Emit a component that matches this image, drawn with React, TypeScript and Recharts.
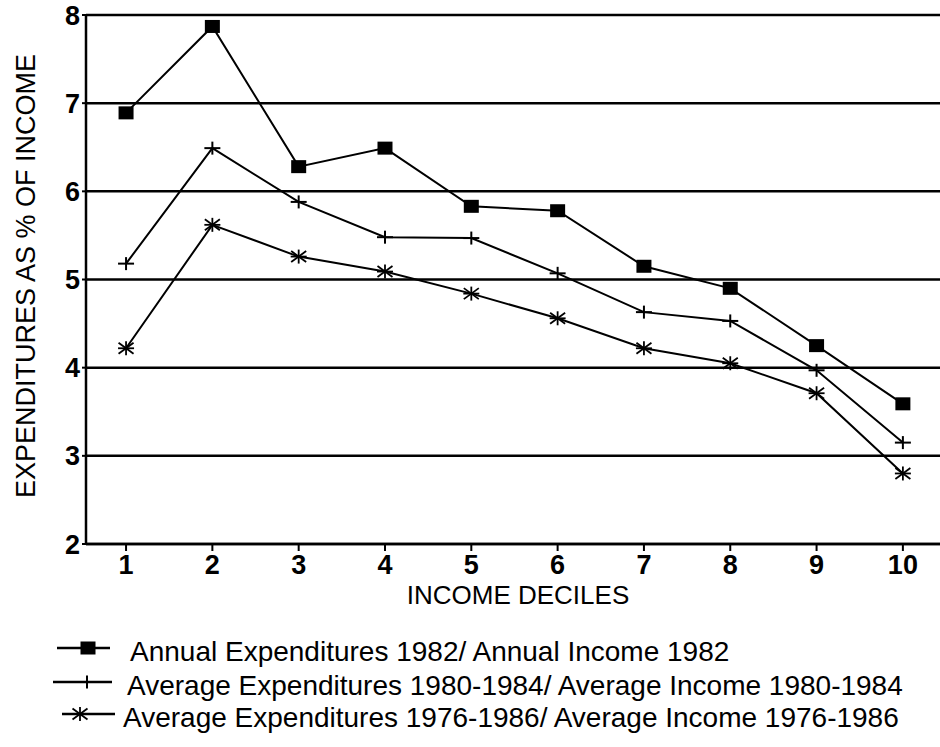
import React from 'react';
import { LineChart, Line, XAxis, YAxis, CartesianGrid, Legend } from 'recharts';

const deciles = [1, 2, 3, 4, 5, 6, 7, 8, 9, 10];
const annual1982 = [6.89, 7.87, 6.28, 6.49, 5.83, 5.78, 5.15, 4.9, 4.25, 3.59];
const avg1980to1984 = [5.18, 6.49, 5.88, 5.48, 5.47, 5.07, 4.63, 4.53, 3.97, 3.15];
const avg1976to1986 = [4.22, 5.62, 5.26, 5.09, 4.84, 4.56, 4.22, 4.05, 3.71, 2.8];
const yTicks = [2, 3, 4, 5, 6, 7, 8];
const seriesNames = [
  'Annual Expenditures 1982/ Annual Income 1982',
  'Average Expenditures 1980-1984/ Average Income 1980-1984',
  'Average Expenditures 1976-1986/ Average Income 1976-1986',
];
const xTitle = 'INCOME DECILES';
const yTitle = 'EXPENDITURES AS % OF INCOME';

const data = deciles.map((d, i) => ({
  decile: d,
  a: annual1982[i],
  b: avg1980to1984[i],
  c: avg1976to1986[i],
}));

const FONT = '"Liberation Sans", Arial, Helvetica, sans-serif';

const SquareMark = ({ cx, cy }: { cx: number; cy: number }) => (
  <rect x={cx - 7.5} y={cy - 6.5} width={15} height={13} fill="#000" />
);
const PlusMark = ({ cx, cy }: { cx: number; cy: number }) => (
  <g stroke="#000" strokeWidth={2}>
    <line x1={cx - 8} y1={cy} x2={cx + 8} y2={cy} />
    <line x1={cx} y1={cy - 6.5} x2={cx} y2={cy + 6.5} />
  </g>
);
const StarMark = ({ cx, cy }: { cx: number; cy: number }) => (
  <g stroke="#000" strokeWidth={1.8}>
    <line x1={cx} y1={cy - 7} x2={cx} y2={cy + 7} />
    <line x1={cx - 7.5} y1={cy - 5.5} x2={cx + 7.5} y2={cy + 5.5} />
    <line x1={cx - 7.5} y1={cy + 5.5} x2={cx + 7.5} y2={cy - 5.5} />
    <line x1={cx - 8} y1={cy} x2={cx + 8} y2={cy} />
  </g>
);

const renderDot = (Mark: any) => (props: any) => {
  const { cx, cy, index } = props;
  return <Mark key={`m-${index}`} cx={cx} cy={cy} />;
};

const LegendContent = () => {
  const rows = [
    { base: 661, textX: 130, lx1: 57, lx2: 110, mx: 88, Mark: SquareMark },
    { base: 695, textX: 127, lx1: 53, lx2: 112, mx: 87, Mark: PlusMark },
    { base: 727, textX: 123, lx1: 62, lx2: 115, mx: 80, Mark: StarMark },
  ];
  const top = 625;
  return (
    <svg width={940} height={122} style={{ display: 'block' }}>
      {rows.map((r, i) => (
        <g key={i}>
          <line x1={r.lx1} y1={r.base - top - 13} x2={r.lx2} y2={r.base - top - 13} stroke="#000" strokeWidth={2.5} />
          <r.Mark cx={r.mx} cy={r.base - top - 13} />
          <text x={r.textX} y={r.base - top} fontSize={28} fill="#000" fontFamily={FONT}>
            {seriesNames[i]}
          </text>
        </g>
      ))}
    </svg>
  );
};

export default function App() {
  return (
    <div style={{ position: 'absolute', left: 0, top: 0, width: 940, height: 747, background: '#fff', fontFamily: FONT }}>
      <LineChart
        width={940}
        height={747}
        data={data}
        margin={{ top: 15, right: 0, bottom: 143, left: 0 }}
      >
        <CartesianGrid horizontal={true} vertical={false} stroke="#000" strokeWidth={2.5} strokeOpacity={1} />
        <XAxis
          dataKey="decile"
          type="number"
          domain={[0.536, 10.43]}
          ticks={deciles}
          allowDataOverflow
          height={60}
          axisLine={{ stroke: '#000', strokeWidth: 2.5 }}
          tickLine={{ stroke: '#000', strokeWidth: 2 }}
          tickSize={7}
          tickMargin={4}
          tick={{ fill: '#000', fontSize: 27, fontWeight: 'bold', fontFamily: FONT }}
          label={{ value: xTitle, position: 'insideBottom', offset: 0, dx: 5, fill: '#000', fontSize: 26, fontFamily: FONT }}
        />
        <YAxis
          type="number"
          domain={[2, 8]}
          ticks={yTicks}
          width={86}
          axisLine={{ stroke: '#000', strokeWidth: 2.5 }}
          tickLine={{ stroke: '#000', strokeWidth: 2 }}
          tickSize={4}
          tickMargin={2}
          tick={{ fill: '#000', fontSize: 27, fontWeight: 'bold', fontFamily: FONT }}
          label={{
            content: () => (
              <text
                x={35}
                y={276}
                transform="rotate(-90, 35, 276)"
                textAnchor="middle"
                fontSize={27}
                fill="#000"
                fontFamily={FONT}
              >
                {yTitle}
              </text>
            ),
          }}
        />
        <Legend
          layout="vertical"
          align="center"
          verticalAlign="middle"
          wrapperStyle={{ position: 'absolute', left: 0, top: 625, width: 940, height: 122 }}
          content={() => <LegendContent />}
        />
        <Line dataKey="a" name={seriesNames[0]} stroke="#000" strokeWidth={2} isAnimationActive={false} dot={renderDot(SquareMark)} activeDot={false} />
        <Line dataKey="b" name={seriesNames[1]} stroke="#000" strokeWidth={2} isAnimationActive={false} dot={renderDot(PlusMark)} activeDot={false} />
        <Line dataKey="c" name={seriesNames[2]} stroke="#000" strokeWidth={2} isAnimationActive={false} dot={renderDot(StarMark)} activeDot={false} />
      </LineChart>
    </div>
  );
}
